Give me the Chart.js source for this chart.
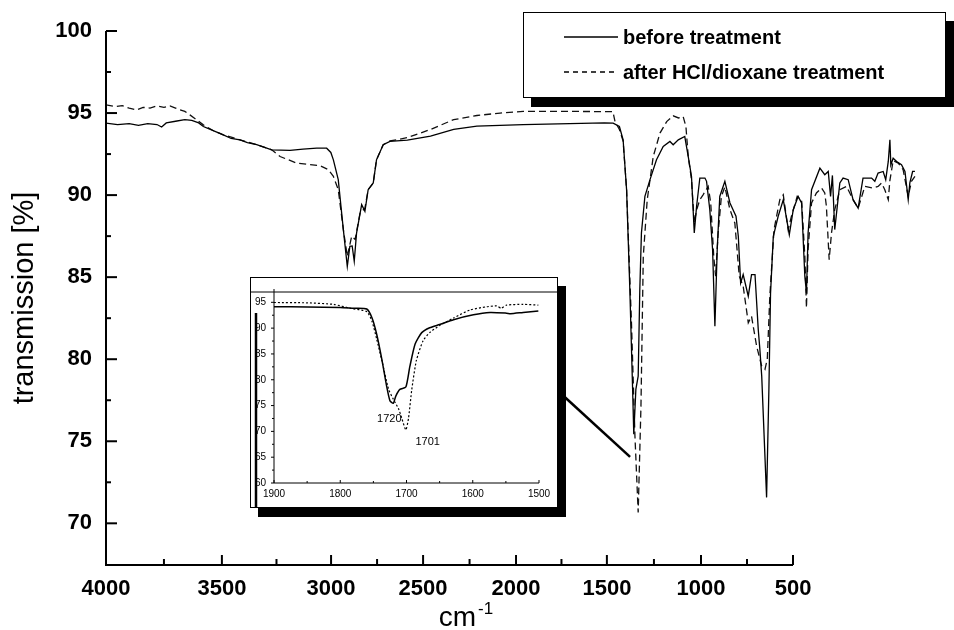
<!DOCTYPE html>
<html>
<head>
<meta charset="utf-8">
<script src="https://cdn.jsdelivr.net/npm/chart.js@4.4.1/dist/chart.umd.min.js"></script>
<style>
  html, body { margin: 0; padding: 0; background: #fff; }
  #wrap { position: relative; width: 954px; height: 630px; overflow: hidden; }
  #main { position: absolute; left: 0; top: 0; }
  #legend { position: absolute; left: 523px; top: 12px; width: 421px; height: 84px; border: 1px solid #000;
            box-shadow: 8px 9px 0 #000; background: #fff; font-family: "Liberation Sans", Arial, sans-serif;
            font-weight: bold; font-size: 20px; color: #000; }
  .row { position: absolute; left: 40px; height: 24px; display: flex; align-items: center; }
  .row svg { margin-right: 5px; }
  #inset { position: absolute; left: 250px; top: 277px; width: 306px; height: 229px; border: 1px solid #000;
           box-shadow: 8px 9px 0 #000; background: #fff; }
  #insetCanvas { position: absolute; left: 0; top: 0; }
</style>
</head>
<body>
<div id="wrap">
  <canvas id="main" width="954" height="630"></canvas>
  <div id="legend">
    <div class="row" style="top:12px"><svg width="54" height="4"><line x1="0" y1="2" x2="54" y2="2" stroke="#000" stroke-width="1.3"/></svg><span>before treatment</span></div>
    <div class="row" style="top:47px"><svg width="54" height="4"><line x1="0" y1="2" x2="54" y2="2" stroke="#000" stroke-width="1.3" stroke-dasharray="5,4"/></svg><span>after HCl/dioxane treatment</span></div>
  </div>
  <div id="inset"><canvas id="insetCanvas" width="306" height="229"></canvas></div>
</div>
<script>
// ---------- DATA ----------
const SERIES_NAMES = ['before treatment', 'after HCl/dioxane treatment'];

// main spectrum, wavenumber (cm-1) and transmission (%)
const BEFORE_WN = [4000,3950,3900,3860,3820,3780,3760,3740,3700,3660,3630,3600,3580,3540,3494,3460,3422,3390,3350,3285,3206,3150,3091,3048,3030,3019,2998,2976,2959,2948,2938,2929,2919,2897,2883,2869,2847,2833,2804,2775,2700,2600,2500,2400,2200,2000,1850,1812,1785,1769,1754,1740,1728,1723,1714,1704,1697,1690,1675,1653,1625,1596,1567,1553,1531,1503,1488,1474,1462,1452,1438,1416,1409,1395,1383,1373,1363,1352,1330,1308,1282,1272,1262,1251,1229,1215,1200,1186,1179,1171,1150,1140,1133,1121,1100,1078,1052,1035,1014,999,985,978,971,956,920,899,884,874,866,856,834,820,798,777,755,734,697,683,669,647,636,625,618,614,604,589,568,553,539,532,520,510];
const BEFORE_T  = [94.39,94.3,94.35,94.25,94.35,94.3,94.15,94.4,94.5,94.6,94.55,94.4,94.18,93.95,93.67,93.45,93.37,93.2,93.07,92.76,92.72,92.8,92.86,92.86,92.6,92.15,90.94,87.9,85.66,86.88,86.9,85.97,87.69,89.42,89.01,90.33,90.74,92.15,93.07,93.27,93.35,93.6,94.0,94.2,94.3,94.35,94.4,94.39,94.18,93.37,90.33,84.25,78.16,75.43,78.16,78.97,84.25,87.69,89.92,90.94,92.15,92.96,93.27,93.07,93.37,93.57,92.35,91.14,87.69,89.32,91.04,91.04,90.84,89.11,86.68,82.01,86.68,89.92,90.84,89.52,88.71,87.49,84.65,85.16,83.84,85.16,85.16,81.81,80.6,78.97,71.58,78.2,84.0,87.49,88.71,89.72,87.59,89.11,89.92,89.52,85.06,84.04,87.69,90.33,91.64,91.24,91.44,89.92,91.2,87.9,90.74,91.04,90.94,89.72,89.21,91.04,91.04,90.84,91.34,91.44,90.94,92.05,93.37,91.84,92.25,92.05,91.85,91.44,89.72,90.74,91.44,91.44];

const AFTER_WN = [4000,3960,3930,3900,3868,3840,3810,3782,3750,3724,3700,3681,3660,3638,3610,3580,3540,3494,3422,3350,3285,3249,3177,3077,3041,3019,2998,2976,2959,2940,2925,2904,2883,2869,2847,2833,2804,2775,2700,2600,2500,2400,2300,2200,2000,1869,1813,1804,1785,1769,1754,1733,1718,1704,1692,1682,1665,1639,1610,1581,1553,1530,1510,1498,1488,1474,1462,1452,1438,1424,1402,1391,1378,1370,1359,1345,1330,1308,1287,1268,1251,1229,1215,1193,1171,1157,1147,1136,1118,1093,1078,1057,1043,1018,999,985,978,971,956,935,913,899,892,880,870,856,834,805,777,755,726,690,669,654,640,625,618,604,582,561,539,525,510];
const AFTER_T  = [95.5,95.4,95.45,95.3,95.19,95.35,95.3,95.44,95.35,95.44,95.3,95.19,95.1,94.89,94.6,94.28,93.95,93.67,93.37,93.07,92.76,92.35,91.95,91.79,91.55,91.14,90.33,87.9,86.27,87.49,87.3,88.91,89.2,90.33,90.74,92.15,93.07,93.3,93.5,94.0,94.6,94.85,95.0,95.1,95.1,95.09,95.09,94.48,94.0,93.3,90.33,82.22,75.33,70.66,77.15,86.27,89.72,92.35,93.78,94.48,94.83,94.7,94.79,94.18,92.35,90.94,88.3,89.1,89.72,90.02,90.53,89.52,86.27,85.06,87.69,89.92,90.5,89.11,88.3,85.06,84.45,82.22,82.62,80.79,79.57,79.38,80.0,83.84,87.9,89.72,90.02,87.9,88.7,89.92,89.7,86.27,83.13,86.68,89.52,90.13,90.43,90.13,89.32,86.07,87.69,89.11,90.33,90.53,89.72,89.21,90.53,90.43,90.53,90.74,90.33,89.72,90.9,92.1,91.95,91.55,89.92,90.84,91.14];

// inset (carbonyl region)
const INSET_BEFORE_WN = [1900,1850,1800,1780,1760,1752,1745,1737,1730,1725,1720,1716,1710,1701,1695,1687,1677,1665,1650,1629,1599,1574,1549,1543,1524,1501];
const INSET_BEFORE_T  = [94.14,94.1,94.0,93.84,93.7,91.96,88.81,83.79,78.77,75.95,75.44,76.89,78.14,78.59,82.54,86.93,89.13,90.07,90.7,91.64,92.58,93.02,92.9,92.8,93.05,93.33];
const INSET_AFTER_WN = [1900,1850,1810,1785,1760,1752,1745,1737,1727,1720,1712,1707,1701,1697,1692,1685,1675,1665,1650,1629,1604,1579,1564,1557,1549,1524,1501];
const INSET_AFTER_T  = [94.97,94.9,94.6,93.84,93.2,91.3,87.87,83.6,78.14,76.26,74.37,72.49,70.3,72.49,78.14,83.79,87.55,89.13,90.5,91.96,93.52,94.14,94.3,93.84,94.46,94.6,94.46];
const INSET_LABELS = [{text: '1720', wn: 1726, t: 72.4}, {text: '1701', wn: 1668, t: 67.9}];

// axes
const Y_TICKS = [70, 75, 80, 85, 90, 95, 100];
const Y_RANGE = [67.46, 100];
const X_RANGE = [445, 4000];
// the printed tick labels and the wavenumbers at which they sit on the original axis
const X_TICK_LABELS = ['4000', '3500', '3000', '2500', '2000', '1500', '1000', '500'];
const X_TICK_VALUES = [4000, 3500, 3029, 2632, 2231, 1839, 1433, 1036];
const INSET_X_TICKS = [1900, 1800, 1700, 1600, 1500];
const INSET_Y_TICKS = [60, 65, 70, 75, 80, 85, 90, 95];
const INSET_Y_RANGE = [60, 97];
// zoom connector (main-chart coordinates)
const CONNECTOR = [{wn: 2020, t: 77.68}, {wn: 1739, t: 74.05}];

const Y_TITLE = 'transmission [%]';
const X_TITLE = 'cm';
const X_TITLE_SUP = '-1';

// ---------- CHART ----------
const FONT = '"Liberation Sans", Arial, sans-serif';
const pts = (xs, ys) => xs.map((x, i) => ({x, y: ys[i]}));

const mainDecor = {
  id: 'mainDecor',
  afterDraw(chart) {
    const ctx = chart.ctx, xs = chart.scales.x, ys = chart.scales.y;
    const x0 = xs.getPixelForValue(X_RANGE[1]);
    const yb = chart.chartArea.bottom;
    const yTop = ys.getPixelForValue(Y_RANGE[1]);
    const xEnd = xs.getPixelForValue(X_TICK_VALUES[X_TICK_VALUES.length - 1]);
    ctx.save();
    ctx.strokeStyle = '#000';
    ctx.lineWidth = 2;
    ctx.beginPath();
    ctx.moveTo(x0, yTop); ctx.lineTo(x0, yb); ctx.lineTo(xEnd, yb);
    ctx.stroke();
    // y ticks (inward)
    Y_TICKS.forEach((v, i) => {
      const p = ys.getPixelForValue(v);
      ctx.beginPath(); ctx.moveTo(x0, p); ctx.lineTo(x0 + 11, p); ctx.stroke();
      if (i < Y_TICKS.length - 1) {
        const m = ys.getPixelForValue((v + Y_TICKS[i + 1]) / 2);
        ctx.beginPath(); ctx.moveTo(x0, m); ctx.lineTo(x0 + 5, m); ctx.stroke();
      }
    });
    // x ticks (inward)
    X_TICK_VALUES.forEach((v, i) => {
      const p = xs.getPixelForValue(v);
      ctx.beginPath(); ctx.moveTo(p, yb); ctx.lineTo(p, yb - 10); ctx.stroke();
      if (i < X_TICK_VALUES.length - 1) {
        const m = xs.getPixelForValue((v + X_TICK_VALUES[i + 1]) / 2);
        ctx.beginPath(); ctx.moveTo(m, yb); ctx.lineTo(m, yb - 6); ctx.stroke();
      }
    });
    // connector to zoom
    ctx.lineWidth = 2.5;
    ctx.beginPath();
    ctx.moveTo(xs.getPixelForValue(CONNECTOR[0].wn), ys.getPixelForValue(CONNECTOR[0].t));
    ctx.lineTo(xs.getPixelForValue(CONNECTOR[1].wn), ys.getPixelForValue(CONNECTOR[1].t));
    ctx.stroke();
    // titles
    ctx.fillStyle = '#000';
    ctx.font = '29px ' + FONT;
    ctx.textBaseline = 'alphabetic';
    ctx.save();
    ctx.translate(33, (yTop + yb) / 2);
    ctx.rotate(-Math.PI / 2);
    ctx.textAlign = 'center';
    ctx.fillText(Y_TITLE, 0, 0);
    ctx.restore();
    ctx.textAlign = 'left';
    ctx.font = '28px ' + FONT;
    const w1 = ctx.measureText(X_TITLE).width;
    ctx.font = '17px ' + FONT;
    const w2 = ctx.measureText(X_TITLE_SUP).width;
    const cx = 466, by = 626;
    const sx = cx - (w1 + w2 + 2) / 2;
    ctx.font = '28px ' + FONT;
    ctx.fillText(X_TITLE, sx, by);
    ctx.font = '17px ' + FONT;
    ctx.fillText(X_TITLE_SUP, sx + w1 + 2, by - 12);
    ctx.restore();
  }
};

new Chart(document.getElementById('main'), {
  type: 'line',
  data: {
    datasets: [
      {label: SERIES_NAMES[0], data: pts(BEFORE_WN, BEFORE_T), borderColor: '#000', borderWidth: 1.3, pointRadius: 0, tension: 0, fill: false},
      {label: SERIES_NAMES[1], data: pts(AFTER_WN, AFTER_T), borderColor: '#111', borderWidth: 1.3, borderDash: [7, 4], pointRadius: 0, tension: 0, fill: false}
    ]
  },
  options: {
    responsive: false, animation: false, devicePixelRatio: 1,
    layout: {padding: {left: 0, right: 24, top: 31, bottom: 0}},
    plugins: {legend: {display: false}, tooltip: {enabled: false}},
    scales: {
      x: {
        type: 'linear', reverse: true, min: X_RANGE[0], max: X_RANGE[1],
        grid: {display: false, drawTicks: false}, border: {display: false},
        afterBuildTicks: s => { s.ticks = X_TICK_VALUES.map(v => ({value: v})); },
        afterFit: s => { s.height = 65; },
        ticks: {autoSkip: false, maxRotation: 0, padding: 11, color: '#000',
                font: {family: FONT, size: 22, weight: 'bold'},
                callback: (v, i) => X_TICK_LABELS[i]}
      },
      y: {
        type: 'linear', min: Y_RANGE[0], max: Y_RANGE[1],
        grid: {display: false, drawTicks: false}, border: {display: false},
        afterBuildTicks: s => { s.ticks = Y_TICKS.map(v => ({value: v})); },
        afterFit: s => { s.width = 106; },
        ticks: {padding: 14, color: '#000', font: {family: FONT, size: 22, weight: 'bold'},
                callback: v => String(v)}
      }
    }
  },
  plugins: [mainDecor]
});

// ---------- INSET ----------
const insetDecor = {
  id: 'insetDecor',
  afterDraw(chart) {
    const ctx = chart.ctx, xs = chart.scales.x, ys = chart.scales.y;
    const x0 = xs.getPixelForValue(INSET_X_TICKS[0]);
    const x1 = xs.getPixelForValue(INSET_X_TICKS[INSET_X_TICKS.length - 1]);
    const yb = ys.getPixelForValue(INSET_Y_RANGE[0]);
    const yt = ys.getPixelForValue(INSET_Y_RANGE[1]);
    ctx.save();
    ctx.strokeStyle = '#000';
    ctx.lineWidth = 1;
    ctx.beginPath();
    ctx.moveTo(x0, yt - 3); ctx.lineTo(x0, yb); ctx.lineTo(x1, yb);
    ctx.stroke();
    INSET_Y_TICKS.forEach(v => {
      const p = ys.getPixelForValue(v);
      ctx.beginPath(); ctx.moveTo(x0, p); ctx.lineTo(x0 - 3, p); ctx.stroke();
      if (v + 2.5 < INSET_Y_RANGE[1]) {
        const m = ys.getPixelForValue(v + 2.5);
        ctx.beginPath(); ctx.moveTo(x0, m); ctx.lineTo(x0 - 2, m); ctx.stroke();
      }
    });
    INSET_X_TICKS.forEach((v, i) => {
      const p = xs.getPixelForValue(v);
      ctx.beginPath(); ctx.moveTo(p, yb); ctx.lineTo(p, yb - 3); ctx.stroke();
      if (i < INSET_X_TICKS.length - 1) {
        const m = xs.getPixelForValue(v - 50);
        ctx.beginPath(); ctx.moveTo(m, yb); ctx.lineTo(m, yb - 2); ctx.stroke();
      }
    });
    // top rule across the frame
    ctx.beginPath(); ctx.moveTo(0, yt); ctx.lineTo(chart.width, yt); ctx.stroke();
    // thick left bar
    ctx.lineWidth = 2.5;
    ctx.beginPath(); ctx.moveTo(5, yt + 21); ctx.lineTo(5, chart.height); ctx.stroke();
    // peak labels
    ctx.fillStyle = '#000';
    ctx.font = '11px ' + FONT;
    ctx.textAlign = 'center'; ctx.textBaseline = 'middle';
    INSET_LABELS.forEach(l => ctx.fillText(l.text, xs.getPixelForValue(l.wn), ys.getPixelForValue(l.t)));
    ctx.restore();
  }
};

new Chart(document.getElementById('insetCanvas'), {
  type: 'line',
  data: {
    datasets: [
      {label: SERIES_NAMES[0], data: pts(INSET_BEFORE_WN, INSET_BEFORE_T), borderColor: '#000', borderWidth: 1.5, pointRadius: 0, tension: 0.2, fill: false},
      {label: SERIES_NAMES[1], data: pts(INSET_AFTER_WN, INSET_AFTER_T), borderColor: '#000', borderWidth: 1.2, borderDash: [2, 2], pointRadius: 0, tension: 0.2, fill: false}
    ]
  },
  options: {
    responsive: false, animation: false, devicePixelRatio: 1,
    layout: {padding: {left: 0, right: 18, top: 9, bottom: 0}},
    plugins: {legend: {display: false}, tooltip: {enabled: false}},
    scales: {
      x: {
        type: 'linear', reverse: true, min: 1500, max: 1900,
        grid: {display: false, drawTicks: false}, border: {display: false},
        afterBuildTicks: s => { s.ticks = INSET_X_TICKS.map(v => ({value: v})); },
        afterFit: s => { s.height = 24; },
        ticks: {autoSkip: false, maxRotation: 0, padding: 5, color: '#000', font: {family: FONT, size: 10},
                callback: v => String(v)}
      },
      y: {
        type: 'linear', min: INSET_Y_RANGE[0], max: INSET_Y_RANGE[1],
        grid: {display: false, drawTicks: false}, border: {display: false},
        afterBuildTicks: s => { s.ticks = INSET_Y_TICKS.map(v => ({value: v})); },
        afterFit: s => { s.width = 23; },
        ticks: {padding: 8, color: '#000', font: {family: FONT, size: 10}, callback: v => String(v)}
      }
    }
  },
  plugins: [insetDecor]
});
</script>
</body>
</html>
